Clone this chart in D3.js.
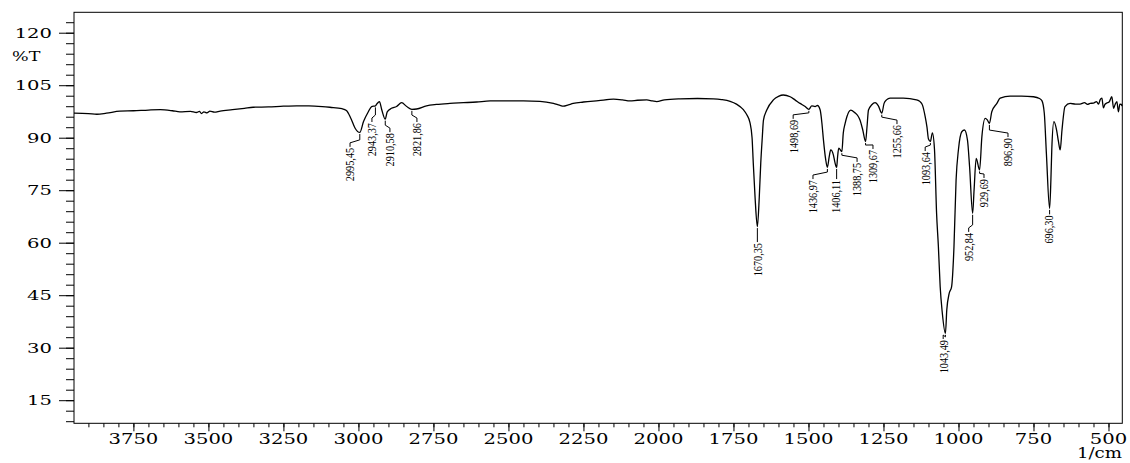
<!DOCTYPE html>
<html><head><meta charset="utf-8">
<script src="https://cdn.jsdelivr.net/npm/d3@7"></script>
<style>body{margin:0;background:#fff} svg{display:block}</style>
</head><body><svg id="c" width="1130" height="463"></svg>
<script>
const wavenumbers = [3948,3900,3872,3840,3795,3750,3700,3660,3620,3595,3560,3540,3530,3523,3515,3505,3495,3480,3461,3420,3380,3351,3300,3250,3206,3165,3120,3095,3055,3040,3025,3011,2995.45,2983,2967,2956,2943.37,2939,2930,2922,2910.58,2904,2890,2873,2856,2839,2821.86,2806,2773,2740,2695,2650,2606,2561,2500,2450,2395,2350,2330,2317,2300,2284,2250,2200,2150,2120,2095,2070,2039,2020,2006,1980,1928,1870,1817,1790,1761,1740,1717,1705,1695,1688,1684,1678,1670.35,1664,1659,1654,1650,1639,1617,1600,1584,1561,1545,1528,1511,1498.69,1489,1478,1470,1461,1455,1450,1443,1436.97,1431,1426,1417,1412,1406.11,1403,1399,1388.75,1384,1378,1372,1359,1345,1335,1328,1319,1309.67,1305,1300,1289,1278,1267,1255.66,1248,1240,1228,1184,1140,1128,1120,1111,1105,1100,1093.64,1087,1080,1073,1067,1061,1054,1043.49,1039,1031,1023,1015,1008,1000,989,980,970,963,952.84,948,941,929.69,922,911,904,896.9,889,872,861,828,790,750,730,722,714,707,696.3,692,689,682,673,667,661,655,645,628,610,595,580,570,561,550,540,533,528,522,517,512,506,498,489,483,478,472,467,462,457,455];
const transmittance = [97.0,96.9,96.7,97.0,97.6,97.7,97.9,98.0,97.7,97.4,97.5,97.2,97.5,96.9,97.4,97.1,97.6,97.3,97.6,98.0,98.4,98.7,98.8,99.0,99.1,99.1,98.9,98.7,98.3,97.8,95.5,92.7,91.5,94.6,97.4,98.9,99.1,99.6,100.3,97.9,95.3,97.4,98.4,98.9,100.0,98.9,98.1,98.2,99.1,99.5,99.8,100.0,100.2,100.5,100.5,100.5,100.4,99.8,99.3,99.0,99.4,99.8,100.2,100.6,101.0,100.8,100.5,100.7,100.8,100.5,100.3,100.8,101.1,101.2,101.1,100.9,100.4,99.6,98.0,96.5,94.3,90.0,82.8,73.0,64.6,73.0,82.8,90.0,95.0,97.9,100.8,101.8,102.2,101.7,100.8,99.8,98.9,98.1,99.1,98.9,99.2,97.9,94.0,89.3,84.0,81.5,84.5,86.5,85.1,83.0,81.5,84.5,87.0,86.0,91.3,94.0,96.0,97.9,97.1,96.2,95.0,92.2,88.9,93.0,97.9,99.4,100.0,99.1,97.0,99.8,100.8,101.3,101.3,100.8,100.3,99.3,96.0,93.0,89.6,88.9,91.4,86.7,68.4,58.9,47.4,40.0,34.1,40.8,45.5,47.4,58.9,77.9,86.7,91.7,92.2,89.3,81.7,68.4,75.1,84.1,80.8,90.3,95.5,95.1,94.1,97.4,99.8,101.3,101.9,101.9,101.7,101.2,100.6,97.0,85.5,69.8,77.9,86.7,94.6,92.2,89.0,86.5,92.2,98.9,99.8,99.6,99.6,100.0,99.5,99.8,99.9,100.3,99.6,100.8,101.3,98.5,99.5,99.9,100.2,101.7,98.4,99.5,100.3,97.4,99.6,99.5,99.0];

const xTicks = [3750,3500,3250,3000,2750,2500,2250,2000,1750,1500,1250,1000,750,500];
const yTicks = [15,30,45,60,75,90,105,120];

const peakWn = [2995.45,2943.37,2910.58,2821.86,1670.35,1498.69,1436.97,1406.11,1388.75,1309.67,1255.66,1093.64,1043.49,952.84,929.69,896.9,696.3];
const peakLabels = ["2995,45","2943,37","2910,58","2821,86","1670,35","1498,69","1436,97","1406,11","1388,75","1309,67","1255,66","1093,64","1043,49","952,84","929,69","896,90","696,30"];
const labelWn = [3028,2955,2895,2805,1670.35,1551,1485,1411,1338,1285,1205,1111,1051,966,915,835,700];
const labelT = [87.1,94.2,91.3,94.2,59.9,95.1,77.9,77.9,82.8,86.5,93.6,85.9,32.2,62.8,78.2,89.9,67.8];

const svg = d3.select("#c");
const L = 74, R = 1122.3, T = 12.3, B = 423.3;
const x = d3.scaleLinear().domain([3948, 454]).range([L, R]);
const y = d3.scaleLinear().domain([8.4, 125.83]).range([B, T]);

const axisFont = "DejaVu Serif";

// frame
svg.append("rect").attr("x", L).attr("y", T).attr("width", R - L).attr("height", B - T)
  .attr("fill", "none").attr("stroke", "#000").attr("stroke-width", 1);

// y axis ticks
const yMinor = d3.range(9, 125, 3);
const gy = svg.append("g").attr("transform", `translate(${L},0)`);
gy.call(d3.axisLeft(y).tickValues(yMinor).tickSize(8).tickFormat(""));
gy.call(g => g.select(".domain").remove());
const gy2 = svg.append("g").attr("transform", `translate(${L},0)`);
gy2.call(d3.axisLeft(y).tickValues(yTicks).tickSize(15).tickFormat(""));
gy2.call(g => g.select(".domain").remove());
svg.selectAll(".tick line").attr("stroke", "#000");

svg.append("g").selectAll("text").data(yTicks).join("text")
  .attr("transform", d => `translate(52,${y(d)}) scale(1.45,1)`)
  .attr("text-anchor", "end").attr("dy", "0.36em")
  .attr("font-family", axisFont).attr("font-size", 13.5).text(d => d);

svg.append("text").attr("transform", `translate(12,${61}) scale(1.3,1)`)
  .attr("font-family", axisFont).attr("font-size", 13.5).text("%T");

// x axis ticks
const xMinor = d3.range(500, 3950, 50);
const gx = svg.append("g").attr("transform", `translate(0,${B})`);
gx.call(d3.axisBottom(x).tickValues(xMinor).tickSize(4).tickFormat(""));
gx.call(g => g.select(".domain").remove());
const gx2 = svg.append("g").attr("transform", `translate(0,${B})`);
gx2.call(d3.axisBottom(x).tickValues(xTicks).tickSize(8).tickFormat(""));
gx2.call(g => g.select(".domain").remove());
svg.selectAll(".tick line").attr("stroke", "#000");

svg.append("g").selectAll("text").data(xTicks).join("text")
  .attr("transform", d => `translate(${x(d)},444) scale(1.4,1)`)
  .attr("text-anchor", "middle")
  .attr("font-family", axisFont).attr("font-size", 14).text(d => d);

svg.append("text").attr("transform", `translate(1122,458) scale(1.3,1)`)
  .attr("text-anchor", "end")
  .attr("font-family", axisFont).attr("font-size", 14).text("1/cm");

// spectrum
const pts = wavenumbers.map((w, i) => [w, transmittance[i]]);
const line = d3.line().x(d => x(d[0])).y(d => y(d[1])).curve(d3.curveMonotoneX);
svg.append("path").datum(pts).attr("d", line)
  .attr("fill", "none").attr("stroke", "#000").attr("stroke-width", 1.3);

// peak labels
const tAt = w => { const i = wavenumbers.indexOf(w); return transmittance[i]; };
const gp = svg.append("g");
peakWn.forEach((w, i) => {
  const px = x(w), py = y(tAt(w)) + 1.5;
  const lx = x(labelWn[i]), ty = y(labelT[i]);
  let p;
  if (Math.abs(lx - px) < 2) {
    p = `M${px},${ty - 1}V${py}`;
  } else {
    const jy = Math.max(py + 2, ty - 8);
    p = `M${lx},${ty - 1}V${ty - 5}L${px},${jy}V${py}`;
  }
  gp.append("path").attr("d", p).attr("fill", "none").attr("stroke", "#000").attr("stroke-width", 1);
  gp.append("text")
    .attr("transform", `translate(${lx},${ty}) rotate(-90) scale(0.82,1)`)
    .attr("text-anchor", "end").attr("dy", "0.35em")
    .attr("font-family", "Liberation Serif").attr("font-size", 12.5)
    .text(peakLabels[i]);
});
</script></body></html>
